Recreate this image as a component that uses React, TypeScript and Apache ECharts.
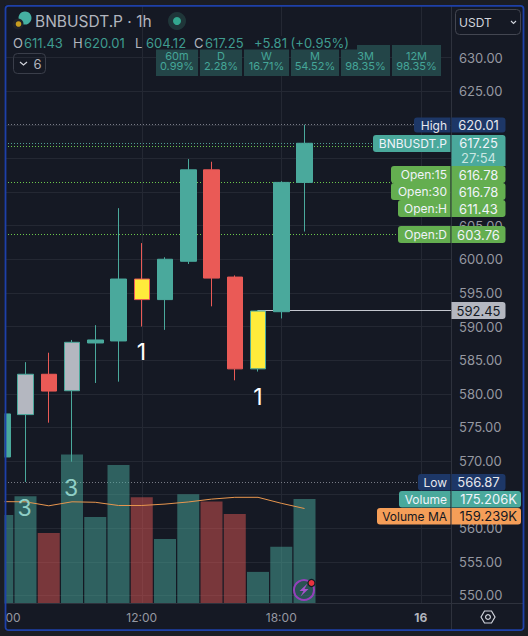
import React, { useEffect, useRef } from "react";
import * as echarts from "echarts";

const hours = [6, 7, 8, 9, 10, 11, 12, 13, 14, 15, 16, 17, 18, 19];
const opens = [570.6, 576.9, 582.9, 580.45, 587.55, 587.85, 597.06, 594, 599.7, 613.3, 597.35, 583.7, 592.2, 611.43];
const closes = [577.0, 582.9, 580.4, 587.65, 588, 597.06, 594, 600, 613.3, 597.2, 583.7, 592.3, 611.43, 617.25];
const lows = [569, 566.87, 575.7, 569.9, 581.6, 581.8, 590, 589.5, 599.3, 593, 582, 583.3, 591.2, 604.12];
const highs = [578, 584.7, 586.1, 588, 590.2, 607.6, 602.4, 600.3, 614.9, 614.5, 597.6, 592.45, 611.6, 620.01];
const volumes = [148.4, 180, 118, 250, 145, 232, 178, 108, 183, 171, 150, 53, 95, 175.206];
const volumeMA = [170.8, 170.5, 163.8, 170.5, 169.7, 164.3, 164.3, 166.7, 170.2, 175, 178, 178, 168, 159.239];
const priceTicks = [550, 555, 560, 565, 570, 575, 580, 585, 590, 595, 600, 605, 610, 615, 620, 625, 630];
const priceLabels = [550, 555, 560, 570, 575, 580, 585, 590, 595, 600, 605, 625, 630];
const timeTicks = [12, 18, 24];
const greyHours = [7, 9];
const yellowHours = [12, 17];
const highLow = [620.01, 566.87];
const openLevels = [616.78, 611.43, 603.76];
const lastPrice = 617.25;
const markedPrice = 592.45;
const perfLabels = ["60m", "D", "W", "M", "3M", "12M"];
const perfValues = ["0.99%", "2.28%", "16.71%", "54.52%", "98.35%", "98.35%"];
const ohlcLetters = ["O", "H", "L", "C"];
const ohlcValues = ["611.43", "620.01", "604.12", "617.25"];

const BG = "#151924";
const OUT = "#1b1d24";
const GRIDC = "#242833";
const EDGE = "#2e323d";
const TEAL = "#4aa99c";
const RED = "#ea5a56";
const YEL = "#ffeb3b";
const GREY = "#b4b7c0";
const GREEN = "#64ae50";
const NAVY = "#1d3767";
const ORANGE = "#f59e58";
const MUTED = "#9598a1";
const FONT = "Inter, Roboto, sans-serif";

const txt = (text: string, x: number, y: number, fill: string, fontSize = 13, align = "left", extra: any = {}) => ({
  type: "text", x, y, z: 1000,
  style: { text, fill, fontSize, fontFamily: FONT, align, verticalAlign: "middle", ...extra },
});
const rect = (x: number, y: number, w: number, h: number, fill: string, r: any = 0, extra: any = {}) => ({
  type: "rect", z: 1000, shape: { x, y, width: w, height: h, r }, style: { fill, ...extra },
});
const seg = (x1: number, y1: number, x2: number, y2: number, stroke: string, lineWidth = 1) => ({
  type: "line", z: 1000, shape: { x1, y1, x2, y2 }, style: { stroke, lineWidth },
});

function tag(label: string, value: string, labelX: number, y: number, h: number, right: number, color: string, ink: string) {
  return [
    rect(labelX, y, 450.5 - labelX, h, color, [3, 0, 0, 3]),
    rect(451.5, y, right - 451.5, h, color, [0, 3, 3, 0]),
    txt(label, 447, y + h / 2, ink, 12, "right"),
    txt(value, right === 505.5 ? 478.5 : 517, y + h / 2, ink, 13, right === 505.5 ? "center" : "right"),
  ];
}

function buildGraphics() {
  const perfX = [156, 200, 244, 291, 341, 392];
  const perfW = [42, 42, 45, 48, 49, 49];
  const ohlcX = [13, 73, 135, 194];
  const g: any[] = [
    seg(451.5, 6, 451.5, 630, EDGE),
    seg(5, 603.5, 523, 603.5, EDGE),
    // performance boxes
    ...perfLabels.flatMap((l, i) => [
      rect(perfX[i], 45, perfW[i], 31, "#234548"),
      txt(l, perfX[i] + perfW[i] / 2, 55.5, "#45a598", 11, "center"),
      txt(perfValues[i], perfX[i] + perfW[i] / 2, 66, "#45a598", 11, "center"),
    ]),
    rect(150, 36, 207, 13.5, BG),
    // header
    txt("BNBUSDT.P · 1h", 35, 21, "#b2b5be", 15.5),
    { type: "circle", z: 1000, shape: { cx: 25, cy: 18, r: 6.5 }, style: { fill: "#45b0a2" } },
    { type: "circle", z: 1000, shape: { cx: 18, cy: 24, r: 5.5 }, style: { fill: "#20222a" } },
    { type: "circle", z: 1000, shape: { cx: 18.5, cy: 24, r: 2.8 }, style: { fill: "#c79d1f" } },
    { type: "circle", z: 1000, shape: { cx: 177, cy: 21, r: 9 }, style: { fill: "#1f3639" } },
    { type: "circle", z: 1000, shape: { cx: 177, cy: 21, r: 4 }, style: { fill: "#33a88f" } },
    ...ohlcLetters.flatMap((l, i) => [
      txt(l, ohlcX[i], 42.5, "#b2b5be", 13),
      txt(ohlcValues[i], ohlcX[i] + 11, 42.5, "#3f9c90", 13),
    ]),
    txt("+5.81 (+0.95%)", 254, 42.5, "#3f9c90", 13),
    // collapse button
    rect(13.5, 53.5, 32, 20, "none", 4, { stroke: "#3a3e4a", lineWidth: 1 }),
    { type: "polyline", z: 1000, shape: { points: [[20, 62], [23.5, 65], [27, 62]] }, style: { stroke: "#d1d4dc", lineWidth: 1.2, fill: "none" } },
    txt("6", 33.5, 64, "#b2b5be", 13),
    // currency select
    rect(455.5, 9.5, 65, 25, BG, 4, { stroke: "#434651", lineWidth: 1 }),
    txt("USDT", 459, 22, "#d1d4dc", 12),
    { type: "polyline", z: 1000, shape: { points: [[511, 21], [513.5, 23.5], [516, 21]] }, style: { stroke: "#d1d4dc", lineWidth: 1.1, fill: "none" } },
    // price tags
    ...tag("High", "620.01", 414, 117.5, 15, 505.5, NAVY, "#e6e8ee"),
    rect(373, 135, 77.5, 17, TEAL, [3, 0, 0, 3]),
    rect(451.5, 135, 54, 31, TEAL, [0, 3, 0, 0]),
    txt("BNBUSDT.P", 447, 143.5, "#f0f3fa", 12, "right"),
    txt("617.25", 478.5, 143, "#f0f3fa", 13, "center"),
    txt("27:54", 478.5, 158, "#c9e6e2", 13, "center"),
    ...tag("Open:15", "616.78", 391, 166, 17, 505.5, GREEN, "#f0f3fa"),
    ...tag("Open:30", "616.78", 391, 183, 17, 505.5, GREEN, "#f0f3fa"),
    ...tag("Open:H", "611.43", 398, 200, 17, 505.5, GREEN, "#f0f3fa"),
    ...tag("Open:D", "603.76", 398, 226, 17, 505.5, GREEN, "#f0f3fa"),
    rect(451.5, 302, 54, 17, GREY, [0, 3, 3, 0]),
    txt("592.45", 478.5, 310.5, "#131722", 13, "center"),
    ...tag("Low", "566.87", 418, 474, 16.5, 505.5, NAVY, "#e6e8ee"),
    ...tag("Volume", "175.206K", 399, 491, 16.5, 521, TEAL, "#f0f3fa"),
    ...tag("Volume MA", "159.239K", 377, 508, 16.5, 521, ORANGE, "#131722"),
    // annotations
    txt("1", 141.5, 352, "#ffffff", 23, "center"),
    txt("1", 258, 397, "#ffffff", 23, "center"),
    txt("3", 24.5, 507.5, "#8fcfc6", 23, "center"),
    txt("3", 71, 487.5, "#8fcfc6", 23, "center"),
    txt("00", 5.5, 617, MUTED, 12),
    // bolt badge
    { type: "circle", z: 1000, shape: { cx: 304, cy: 590, r: 10 }, style: { fill: "rgba(21,25,36,0.2)", stroke: "#9440bb", lineWidth: 2 } },
    { type: "polygon", z: 1000, shape: { points: [[307.5, 583.5], [299.5, 591], [303.5, 591], [300.5, 596.5], [308.5, 589], [304.5, 589]] }, style: { fill: "#a552cc" } },
    { type: "circle", z: 1000, shape: { cx: 311.5, cy: 583, r: 3.5 }, style: { fill: "#e8333f", stroke: BG, lineWidth: 1.2 } },
    // settings
    { type: "polygon", z: 1000, shape: { points: [[481, 617], [484.5, 611], [491.5, 611], [495, 617], [491.5, 623], [484.5, 623]] }, style: { fill: "none", stroke: "#d1d4dc", lineWidth: 1.2 } },
    { type: "circle", z: 1000, shape: { cx: 488, cy: 617, r: 2.4 }, style: { fill: "none", stroke: "#d1d4dc", lineWidth: 1.2 } },
    // outer frame
    rect(0, 0, 528, 5, OUT),
    rect(0, 0, 4.5, 636, OUT),
    rect(524, 0, 4, 636, OUT),
    rect(0, 631, 528, 5, OUT),
    rect(5.5, 5.8, 518, 624.4, "none", 3, { stroke: "#1e40a8", lineWidth: 1.8 }),
  ];
  return g;
}

export default function App() {
  const ref = useRef<HTMLDivElement>(null);
  useEffect(() => {
    document.body.style.margin = "0";
    document.body.style.background = OUT;
    const chart = echarts.init(ref.current!, undefined, { renderer: "svg" });
    const xMin = 6.118;
    const xMax = 25.3;
    const candleData = hours.map((h, i) => {
      const up = closes[i] >= opens[i];
      const border = up ? TEAL : RED;
      const body = greyHours.includes(h) ? GREY : yellowHours.includes(h) ? YEL : border;
      return {
        value: [h, opens[i], closes[i], lows[i], highs[i]],
        itemStyle: { color: body, color0: body, borderColor: border, borderColor0: border, borderWidth: 1 },
      };
    });
    const dotted = (v: number, color: string) => ({
      yAxis: v,
      lineStyle: { color, type: [1, 2], width: 1, opacity: 1 },
    });
    chart.setOption({
      animation: false,
      backgroundColor: BG,
      textStyle: { fontFamily: FONT },
      grid: { left: 5, right: 77, top: 6, height: 597.5, containLabel: false },
      xAxis: {
        type: "value",
        min: xMin,
        max: xMax,
        axisLine: { show: false, onZero: false },
        axisTick: { show: false, customValues: timeTicks },
        splitLine: { show: true, lineStyle: { color: GRIDC, width: 1 } },
        axisLabel: {
          customValues: timeTicks,
          margin: 8,
          color: MUTED,
          fontSize: 12,
          fontFamily: FONT,
          formatter: (v: number) => (v === 24 ? "{b|16}" : `${v}:00`),
          rich: { b: { fontWeight: "bold", color: "#b2b5be", fontSize: 12, fontFamily: FONT } },
        },
      },
      yAxis: [
        {
          type: "value",
          position: "right",
          min: 548.81,
          max: 637.66,
          axisLine: { show: false },
          axisTick: { show: false, customValues: priceTicks },
          splitLine: { show: true, lineStyle: { color: GRIDC, width: 1 } },
          axisLabel: {
            customValues: priceLabels,
            margin: 8,
            color: MUTED,
            fontSize: 13,
            fontFamily: FONT,
            formatter: (v: number) => v.toFixed(2),
          },
        },
        { type: "value", min: 0, max: 1001.7, show: false, splitLine: { show: false } },
      ],
      series: [
        {
          type: "bar",
          yAxisIndex: 1,
          z: 1,
          barWidth: 22,
          data: hours.map((h, i) => ({
            value: [h, volumes[i]],
            itemStyle: {
              color: closes[i] >= opens[i] ? "rgba(74,169,156,0.5)" : "rgba(234,90,86,0.47)",
            },
          })),
        },
        {
          type: "candlestick",
          z: 2,
          barWidth: 16,
          encode: { x: 0, y: [1, 2, 3, 4] },
          data: candleData,
          markLine: {
            z: 1,
            silent: true,
            symbol: "none",
            label: { show: false },
            data: [
              dotted(highLow[0], "#787b86"),
              dotted(highLow[1], "#787b86"),
              dotted(lastPrice, "#4f9e94"),
              ...openLevels.map((v) => dotted(v, "#6cc84c")),
              [
                { coord: [17, markedPrice], lineStyle: { color: "#c4c7cf", type: "solid", width: 1 } },
                { coord: [xMax, markedPrice] },
              ],
            ],
          },
        },
        {
          type: "line",
          yAxisIndex: 1,
          z: 3,
          symbol: "none",
          lineStyle: { color: "#e8964e", width: 1 },
          data: hours.map((h, i) => [h, volumeMA[i]]),
        },
      ],
      graphic: buildGraphics(),
    });
    return () => chart.dispose();
  }, []);
  return <div ref={ref} style={{ width: 528, height: 636 }} />;
}
